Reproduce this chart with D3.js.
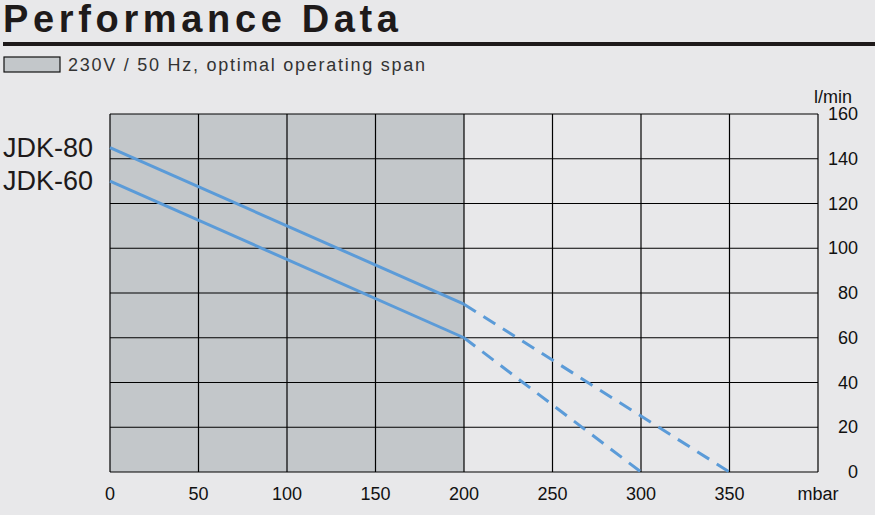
<!DOCTYPE html>
<html><head><meta charset="utf-8">
<script src="https://cdn.jsdelivr.net/npm/d3@7"></script>
<style>body{margin:0;background:#e8e8ea;}</style>
</head><body>
<script>
var xTicks = [0, 50, 100, 150, 200, 250, 300, 350];
var yTicks = [0, 20, 40, 60, 80, 100, 120, 140, 160];
var spanMax = 200;
var jdk80Solid = [[0, 145], [200, 75]];
var jdk80Dash = [[200, 75], [350, 0]];
var jdk60Solid = [[0, 130], [200, 60]];
var jdk60Dash = [[200, 60], [300, 0]];

var svg = d3.select("body").append("svg")
    .attr("width", 875)
    .attr("height", 515)
    .style("font-family", "Arial, 'Liberation Sans', sans-serif");

svg.append("rect").attr("width", 875).attr("height", 515).attr("fill", "#e8e8ea");

svg.append("text").attr("x", 3).attr("y", 32)
    .attr("font-size", 38).attr("font-weight", "900").attr("fill", "#1e1a1a")
    .attr("textLength", 395).attr("lengthAdjust", "spacing")
    .text("Performance Data");
svg.append("rect").attr("x", 3).attr("y", 42).attr("width", 872).attr("height", 4).attr("fill", "#1e1a1a");

svg.append("rect").attr("x", 4).attr("y", 57).attr("width", 56).attr("height", 15)
    .attr("fill", "#c3c7ca").attr("stroke", "#111").attr("stroke-width", 1.2);
svg.append("text").attr("x", 68).attr("y", 71).attr("font-size", 18).attr("fill", "#333")
    .attr("textLength", 357).attr("lengthAdjust", "spacing")
    .text("230V / 50 Hz, optimal operating span");

var x = d3.scaleLinear().domain([0, 400]).range([110, 818]);
var y = d3.scaleLinear().domain([0, 160]).range([472, 114]);

svg.append("rect").attr("x", x(0)).attr("y", y(160))
    .attr("width", x(spanMax) - x(0)).attr("height", y(0) - y(160)).attr("fill", "#c3c7ca");

var grid = svg.append("g");
grid.selectAll(".v").data(xTicks.concat([400])).enter().append("line")
    .attr("x1", d => x(d)).attr("x2", d => x(d)).attr("y1", y(0)).attr("y2", y(160))
    .attr("stroke", "#000").attr("stroke-width", 1.2);
grid.selectAll(".h").data(yTicks).enter().append("line")
    .attr("x1", x(0)).attr("x2", x(400)).attr("y1", d => y(d)).attr("y2", d => y(d))
    .attr("stroke", "#000").attr("stroke-width", 1.2);

svg.selectAll(".xl").data(xTicks).enter().append("text")
    .attr("x", d => x(d)).attr("y", 500).attr("text-anchor", "middle")
    .attr("font-size", 18).attr("fill", "#111").text(d => d);
svg.append("text").attr("x", x(400)).attr("y", 500).attr("text-anchor", "middle")
    .attr("font-size", 18).attr("fill", "#111").text("mbar");

svg.selectAll(".yl").data(yTicks).enter().append("text")
    .attr("x", 858).attr("y", d => y(d) + 6).attr("text-anchor", "end")
    .attr("font-size", 18).attr("fill", "#111").text(d => d);
svg.append("text").attr("x", 852).attr("y", 103).attr("text-anchor", "end")
    .attr("font-size", 18).attr("fill", "#111").text("l/min");

var line = d3.line().x(d => x(d[0])).y(d => y(d[1]));
[jdk80Solid, jdk60Solid].forEach(function (s) {
  svg.append("path").attr("d", line(s)).attr("fill", "none")
    .attr("stroke", "#5b9bd8").attr("stroke-width", 3);
});
[jdk80Dash, jdk60Dash].forEach(function (s) {
  svg.append("path").attr("d", line(s)).attr("fill", "none")
    .attr("stroke", "#5b9bd8").attr("stroke-width", 3).attr("stroke-dasharray", "14,9");
});

svg.append("text").attr("x", 3).attr("y", 157).attr("font-size", 27).attr("fill", "#1e1a1a").text("JDK-80");
svg.append("text").attr("x", 3).attr("y", 190).attr("font-size", 27).attr("fill", "#1e1a1a").text("JDK-60");
</script>
</body></html>
